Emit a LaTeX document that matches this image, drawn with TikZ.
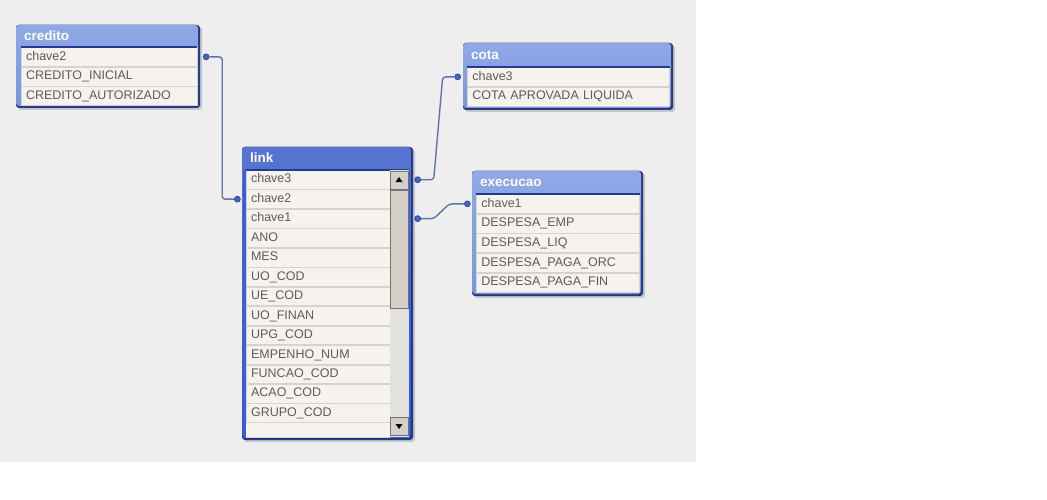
\documentclass[tikz,border=0pt]{standalone}
\usepackage{fontspec}
\setmainfont{Liberation Sans}
\usetikzlibrary{positioning,calc}

\definecolor{canvas}{RGB}{238,238,238}
\definecolor{hdrlight}{RGB}{120,150,224}
\definecolor{hdrsel}{RGB}{50,86,200}
\definecolor{edgedark}{RGB}{36,58,140}
\definecolor{edgesel}{RGB}{60,96,212}
\definecolor{rowfill}{RGB}{246,242,238}
\definecolor{rowline}{RGB}{214,210,206}
\definecolor{fldtext}{RGB}{92,92,92}
\definecolor{dotblue}{RGB}{70,100,190}
\definecolor{dotdark}{RGB}{40,62,140}
\definecolor{wireblue}{RGB}{96,116,170}
\definecolor{scrollgray}{RGB}{212,208,200}
\definecolor{scrolltrack}{RGB}{228,226,222}

\tikzset{
  tblshadow/.style={fill=black!22, rounded corners=3pt},
  tbledge/.style={fill=#1, rounded corners=3pt},
  tblhead/.style={top color=#1!82!white, bottom color=#1, rounded corners=3pt},
  fld/.style={draw=rowline, line width=0.7pt, fill=rowfill, text=fldtext,
    anchor=north west, align=left, text width=#1, inner xsep=5pt, inner ysep=0pt,
    minimum height=19pt, text height=9pt, text depth=2.5pt,
    font=\fontsize{12.5}{14}\selectfont},
  lnkfld/.style={fld=134pt, minimum height=18.75pt},
  title/.style={anchor=west, inner sep=0pt, text=white,
    font=\bfseries\fontsize{13.5}{15}\selectfont},
  keydot/.style={circle, inner sep=0pt, minimum size=6pt, fill=dotblue,
    draw=dotdark, line width=0.6pt},
  wire/.style={draw=wireblue, line width=1.4pt, rounded corners=3pt},
  scrollbtn/.style={fill=scrollgray, draw=black!55, line width=0.8pt},
}

\begin{document}
\begin{tikzpicture}[x=1pt, y=-1pt]
    \useasboundingbox (0,0) rectangle (1047,500);
    \fill[white] (0,0) rectangle (1047,500);
    \fill[canvas] (0,0) rectangle (696,462);

    % table credito
    \fill[tblshadow] (18,27) rectangle (202,110);
    \fill[tbledge=edgedark] (16,25) rectangle (200,108);
    \fill[tblhead=hdrlight] (16,25) rectangle (198,106);
    \node[title] (cre-t) at (24,36) {credito};
    \node[fld=166pt] (cre-1) at (20.7,47) {chave2};
    \node[fld=166pt, below=0pt of cre-1] (cre-2) {CREDITO\_INICIAL};
    \node[fld=166pt, below=0pt of cre-2] (cre-3) {CREDITO\_AUTORIZADO};
    \draw[edgedark, line width=1.3pt] (cre-1.north west) -- (cre-1.north east);

    % table cota
    \fill[tblshadow] (465,45) rectangle (675,112);
    \fill[tbledge=edgedark] (463,43) rectangle (673,110);
    \fill[tblhead=hdrlight] (463,43) rectangle (671,108);
    \node[title] (cota-t) at (471,55) {cota};
    \node[fld=192pt] (cota-1) at (467,67) {chave3};
    \node[fld=192pt, below=0pt of cota-1] (cota-2) {COTA APROVADA LIQUIDA};
    \draw[edgedark, line width=1.3pt] (cota-1.north west) -- (cota-1.north east);

    % table execucao
    \fill[tblshadow] (474,173) rectangle (645,298);
    \fill[tbledge=edgedark] (472,171) rectangle (643,296);
    \fill[tblhead=hdrlight] (472,171) rectangle (641,294);
    \node[title] (exe-t) at (480,183) {execucao};
    \node[fld=153pt] (exe-1) at (476,194) {chave1};
    \node[fld=153pt, below=0pt of exe-1] (exe-2) {DESPESA\_EMP};
    \node[fld=153pt, below=0pt of exe-2] (exe-3) {DESPESA\_LIQ};
    \node[fld=153pt, below=0pt of exe-3] (exe-4) {DESPESA\_PAGA\_ORC};
    \node[fld=153pt, below=0pt of exe-4] (exe-5) {DESPESA\_PAGA\_FIN};
    \draw[edgedark, line width=1.3pt] (exe-1.north west) -- (exe-1.north east);

    % table link (selected)
    \fill[tblshadow] (244,149) rectangle (415,442);
    \fill[tbledge=edgedark] (242,147) rectangle (413,440);
    \fill[tblhead=hdrsel] (242,147) rectangle (411,438);
    \fill[edgesel] (243,170) rectangle (410,438);
    \fill[rowfill] (245.7,170) rectangle (409,437);
    \draw[rowline, line width=0.7pt] (245.7,437) -- (390,437);
    \node[title] (lnk-t) at (250,158) {link};
    \node[lnkfld] (lnk-1) at (245.7,170) {chave3};
    \node[lnkfld, below=0pt of lnk-1] (lnk-2) {chave2};
    \node[lnkfld, below=0pt of lnk-2] (lnk-3) {chave1};
    \node[lnkfld, below=0pt of lnk-3] (lnk-4) {ANO};
    \node[lnkfld, below=0pt of lnk-4] (lnk-5) {MES};
    \node[lnkfld, below=0pt of lnk-5] (lnk-6) {UO\_COD};
    \node[lnkfld, below=0pt of lnk-6] (lnk-7) {UE\_COD};
    \node[lnkfld, below=0pt of lnk-7] (lnk-8) {UO\_FINAN};
    \node[lnkfld, below=0pt of lnk-8] (lnk-9) {UPG\_COD};
    \node[lnkfld, below=0pt of lnk-9] (lnk-10) {EMPENHO\_NUM};
    \node[lnkfld, below=0pt of lnk-10] (lnk-11) {FUNCAO\_COD};
    \node[lnkfld, below=0pt of lnk-11] (lnk-12) {ACAO\_COD};
    \node[lnkfld, below=0pt of lnk-12] (lnk-13) {GRUPO\_COD};
    \draw[edgedark, line width=1.3pt] (lnk-1.north west) -- (409,170);

    % scrollbar
    \fill[scrolltrack] (390,170) rectangle (409,437);
    \draw[scrollbtn] (390.5,171) rectangle (408,189);
    \fill (399,177) -- (395.5,182) -- (402.5,182) -- cycle;
    \draw[scrollbtn] (390.5,190) rectangle (408,308);
    \draw[scrollbtn] (390.5,417) rectangle (408,435);
    \fill (395.5,424) -- (402.5,424) -- (399,429) -- cycle;

    % key dots
    \node[keydot, right=5.5pt of cre-1] (dot-cre) {};
    \node[keydot, left=5pt of lnk-2] (dot-lnk2) {};
    \node[keydot, right=24pt of lnk-1] (dot-lnk3) {};
    \node[keydot, right=24pt of lnk-3] (dot-lnk1) {};
    \node[keydot, left=6pt of cota-1] (dot-cota) {};
    \node[keydot, left=5.3pt of exe-1] (dot-exe) {};

    % links between keys
    \draw[wire] (dot-cre) -- ++(16,0) |- (dot-lnk2);
    \draw[wire] (dot-lnk3) -- ++(16,0) -- ([xshift=-15pt]dot-cota.center) -- (dot-cota);
    \draw[wire] (dot-lnk1) -- ++(16,0) -- ([xshift=-18pt]dot-exe.center) -- (dot-exe);
\end{tikzpicture}
\end{document}
